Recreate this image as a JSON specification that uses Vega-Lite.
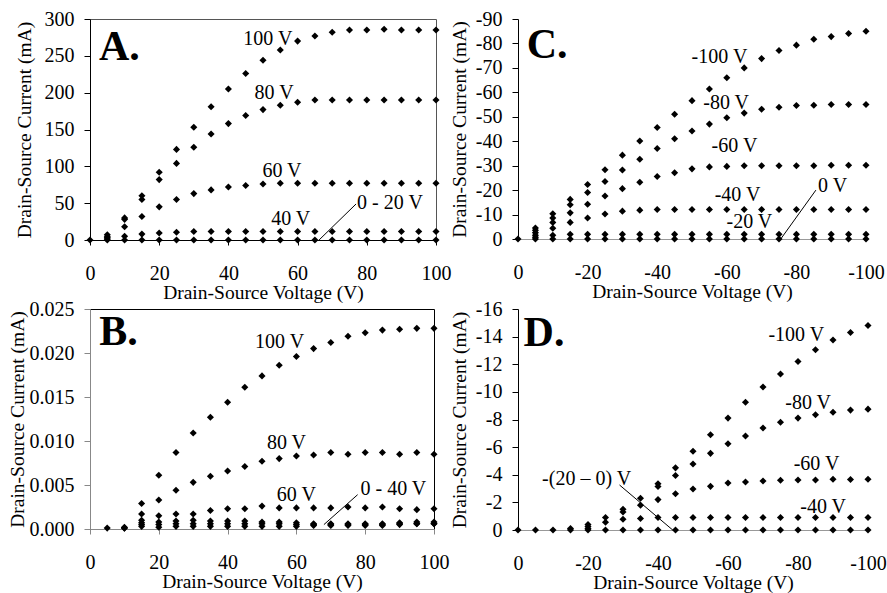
{
  "$schema": "https://vega.github.io/schema/vega-lite/v6.json",
  "padding": {"left": 6, "top": 8, "right": 2, "bottom": 2},
  "background": "white",
  "datasets": {
    "A": [
      {"g": "0 V", "v": 0, "i": 0},
      {"g": "100 V", "v": 5, "i": 7}, {"g": "100 V", "v": 10, "i": 30}, {"g": "100 V", "v": 15, "i": 60}, {"g": "100 V", "v": 20, "i": 92}, {"g": "100 V", "v": 25, "i": 123}, {"g": "100 V", "v": 30, "i": 153}, {"g": "100 V", "v": 35, "i": 181}, {"g": "100 V", "v": 40, "i": 205}, {"g": "100 V", "v": 45, "i": 226}, {"g": "100 V", "v": 50, "i": 244}, {"g": "100 V", "v": 55, "i": 258}, {"g": "100 V", "v": 60, "i": 270}, {"g": "100 V", "v": 65, "i": 277}, {"g": "100 V", "v": 70, "i": 282}, {"g": "100 V", "v": 75, "i": 285}, {"g": "100 V", "v": 80, "i": 285}, {"g": "100 V", "v": 85, "i": 286}, {"g": "100 V", "v": 90, "i": 285}, {"g": "100 V", "v": 95, "i": 285}, {"g": "100 V", "v": 100, "i": 285},
      {"g": "80 V", "v": 5, "i": 4.5}, {"g": "80 V", "v": 10, "i": 28}, {"g": "80 V", "v": 15, "i": 55}, {"g": "80 V", "v": 20, "i": 82}, {"g": "80 V", "v": 25, "i": 104}, {"g": "80 V", "v": 30, "i": 126}, {"g": "80 V", "v": 35, "i": 144}, {"g": "80 V", "v": 40, "i": 158}, {"g": "80 V", "v": 45, "i": 169}, {"g": "80 V", "v": 50, "i": 177}, {"g": "80 V", "v": 55, "i": 183}, {"g": "80 V", "v": 60, "i": 187}, {"g": "80 V", "v": 65, "i": 190}, {"g": "80 V", "v": 70, "i": 190}, {"g": "80 V", "v": 75, "i": 190}, {"g": "80 V", "v": 80, "i": 190}, {"g": "80 V", "v": 85, "i": 190}, {"g": "80 V", "v": 90, "i": 190}, {"g": "80 V", "v": 95, "i": 190}, {"g": "80 V", "v": 100, "i": 190},
      {"g": "60 V", "v": 5, "i": 3}, {"g": "60 V", "v": 10, "i": 18}, {"g": "60 V", "v": 15, "i": 32}, {"g": "60 V", "v": 20, "i": 45}, {"g": "60 V", "v": 25, "i": 55}, {"g": "60 V", "v": 30, "i": 63}, {"g": "60 V", "v": 35, "i": 68}, {"g": "60 V", "v": 40, "i": 72}, {"g": "60 V", "v": 45, "i": 74}, {"g": "60 V", "v": 50, "i": 76}, {"g": "60 V", "v": 55, "i": 77}, {"g": "60 V", "v": 60, "i": 77}, {"g": "60 V", "v": 65, "i": 77}, {"g": "60 V", "v": 70, "i": 77}, {"g": "60 V", "v": 75, "i": 77}, {"g": "60 V", "v": 80, "i": 77}, {"g": "60 V", "v": 85, "i": 77}, {"g": "60 V", "v": 90, "i": 77}, {"g": "60 V", "v": 95, "i": 77}, {"g": "60 V", "v": 100, "i": 77},
      {"g": "40 V", "v": 5, "i": 1.5}, {"g": "40 V", "v": 10, "i": 5}, {"g": "40 V", "v": 15, "i": 8}, {"g": "40 V", "v": 20, "i": 9.5}, {"g": "40 V", "v": 25, "i": 10.5}, {"g": "40 V", "v": 30, "i": 11.5}, {"g": "40 V", "v": 35, "i": 11.5}, {"g": "40 V", "v": 40, "i": 11.5}, {"g": "40 V", "v": 45, "i": 11.5}, {"g": "40 V", "v": 50, "i": 11.5}, {"g": "40 V", "v": 55, "i": 11.5}, {"g": "40 V", "v": 60, "i": 11.5}, {"g": "40 V", "v": 65, "i": 11.5}, {"g": "40 V", "v": 70, "i": 11.5}, {"g": "40 V", "v": 75, "i": 11.5}, {"g": "40 V", "v": 80, "i": 11.5}, {"g": "40 V", "v": 85, "i": 11.5}, {"g": "40 V", "v": 90, "i": 11.5}, {"g": "40 V", "v": 95, "i": 11.5}, {"g": "40 V", "v": 100, "i": 11.5},
      {"g": "0 V", "v": 5, "i": 0}, {"g": "0 V", "v": 10, "i": 0}, {"g": "0 V", "v": 15, "i": 0}, {"g": "0 V", "v": 20, "i": 0}, {"g": "0 V", "v": 25, "i": 0}, {"g": "0 V", "v": 30, "i": 0}, {"g": "0 V", "v": 35, "i": 0}, {"g": "0 V", "v": 40, "i": 0}, {"g": "0 V", "v": 45, "i": 0}, {"g": "0 V", "v": 50, "i": 0}, {"g": "0 V", "v": 55, "i": 0}, {"g": "0 V", "v": 60, "i": 0}, {"g": "0 V", "v": 65, "i": 0}, {"g": "0 V", "v": 70, "i": 0}, {"g": "0 V", "v": 75, "i": 0}, {"g": "0 V", "v": 80, "i": 0}, {"g": "0 V", "v": 85, "i": 0}, {"g": "0 V", "v": 90, "i": 0}, {"g": "0 V", "v": 95, "i": 0}, {"g": "0 V", "v": 100, "i": 0}
    ],
    "B": [
      {"g": "100 V", "v": 5, "i": 0.0001}, {"g": "100 V", "v": 10, "i": 0.0001}, {"g": "100 V", "v": 15, "i": 0.0029}, {"g": "100 V", "v": 20, "i": 0.0061}, {"g": "100 V", "v": 25, "i": 0.0087}, {"g": "100 V", "v": 30, "i": 0.0109}, {"g": "100 V", "v": 35, "i": 0.0127}, {"g": "100 V", "v": 40, "i": 0.0144}, {"g": "100 V", "v": 45, "i": 0.0161}, {"g": "100 V", "v": 50, "i": 0.0174}, {"g": "100 V", "v": 55, "i": 0.0186}, {"g": "100 V", "v": 60, "i": 0.0196}, {"g": "100 V", "v": 65, "i": 0.0205}, {"g": "100 V", "v": 70, "i": 0.0212}, {"g": "100 V", "v": 75, "i": 0.0219}, {"g": "100 V", "v": 80, "i": 0.0223}, {"g": "100 V", "v": 85, "i": 0.0226}, {"g": "100 V", "v": 90, "i": 0.0227}, {"g": "100 V", "v": 95, "i": 0.0228}, {"g": "100 V", "v": 100, "i": 0.0228},
      {"g": "80 V", "v": 10, "i": 0.0001}, {"g": "80 V", "v": 15, "i": 0.0017}, {"g": "80 V", "v": 20, "i": 0.0033}, {"g": "80 V", "v": 25, "i": 0.0044}, {"g": "80 V", "v": 30, "i": 0.0053}, {"g": "80 V", "v": 35, "i": 0.006}, {"g": "80 V", "v": 40, "i": 0.0066}, {"g": "80 V", "v": 45, "i": 0.0071}, {"g": "80 V", "v": 50, "i": 0.0077}, {"g": "80 V", "v": 55, "i": 0.008}, {"g": "80 V", "v": 60, "i": 0.0083}, {"g": "80 V", "v": 65, "i": 0.0084}, {"g": "80 V", "v": 70, "i": 0.0087}, {"g": "80 V", "v": 75, "i": 0.0085}, {"g": "80 V", "v": 80, "i": 0.0087}, {"g": "80 V", "v": 85, "i": 0.0087}, {"g": "80 V", "v": 90, "i": 0.0085}, {"g": "80 V", "v": 95, "i": 0.0087}, {"g": "80 V", "v": 100, "i": 0.0085},
      {"g": "60 V", "v": 10, "i": 0.0002}, {"g": "60 V", "v": 15, "i": 0.001}, {"g": "60 V", "v": 20, "i": 0.0015}, {"g": "60 V", "v": 25, "i": 0.0017}, {"g": "60 V", "v": 30, "i": 0.0017}, {"g": "60 V", "v": 35, "i": 0.0021}, {"g": "60 V", "v": 40, "i": 0.0023}, {"g": "60 V", "v": 45, "i": 0.0023}, {"g": "60 V", "v": 50, "i": 0.0026}, {"g": "60 V", "v": 55, "i": 0.0024}, {"g": "60 V", "v": 60, "i": 0.0024}, {"g": "60 V", "v": 65, "i": 0.0024}, {"g": "60 V", "v": 70, "i": 0.0024}, {"g": "60 V", "v": 75, "i": 0.0025}, {"g": "60 V", "v": 80, "i": 0.0024}, {"g": "60 V", "v": 85, "i": 0.0025}, {"g": "60 V", "v": 90, "i": 0.0023}, {"g": "60 V", "v": 95, "i": 0.0022}, {"g": "60 V", "v": 100, "i": 0.0023},
      {"g": "40 V", "v": 15, "i": 0.0007}, {"g": "40 V", "v": 20, "i": 0.0008}, {"g": "40 V", "v": 25, "i": 0.0009}, {"g": "40 V", "v": 30, "i": 0.001}, {"g": "40 V", "v": 35, "i": 0.0009}, {"g": "40 V", "v": 40, "i": 0.0009}, {"g": "40 V", "v": 45, "i": 0.0009}, {"g": "40 V", "v": 50, "i": 0.0008}, {"g": "40 V", "v": 55, "i": 0.0008}, {"g": "40 V", "v": 60, "i": 0.0007}, {"g": "40 V", "v": 65, "i": 0.0006}, {"g": "40 V", "v": 70, "i": 0.0006}, {"g": "40 V", "v": 75, "i": 0.0006}, {"g": "40 V", "v": 80, "i": 0.0006}, {"g": "40 V", "v": 85, "i": 0.0006}, {"g": "40 V", "v": 90, "i": 0.0007}, {"g": "40 V", "v": 95, "i": 0.0008}, {"g": "40 V", "v": 100, "i": 0.0008},
      {"g": "20 V", "v": 15, "i": 0.0005}, {"g": "20 V", "v": 20, "i": 0.0005}, {"g": "20 V", "v": 25, "i": 0.0006}, {"g": "20 V", "v": 30, "i": 0.0006}, {"g": "20 V", "v": 35, "i": 0.0006}, {"g": "20 V", "v": 40, "i": 0.0006}, {"g": "20 V", "v": 45, "i": 0.0006}, {"g": "20 V", "v": 50, "i": 0.0006}, {"g": "20 V", "v": 55, "i": 0.0006}, {"g": "20 V", "v": 60, "i": 0.0005}, {"g": "20 V", "v": 65, "i": 0.0005}, {"g": "20 V", "v": 70, "i": 0.0005}, {"g": "20 V", "v": 75, "i": 0.0005}, {"g": "20 V", "v": 80, "i": 0.0005}, {"g": "20 V", "v": 85, "i": 0.0005}, {"g": "20 V", "v": 90, "i": 0.0006}, {"g": "20 V", "v": 95, "i": 0.0006}, {"g": "20 V", "v": 100, "i": 0.0006},
      {"g": "0 V", "v": 15, "i": 0.0003}, {"g": "0 V", "v": 20, "i": 0.0002}, {"g": "0 V", "v": 25, "i": 0.0003}, {"g": "0 V", "v": 30, "i": 0.0003}, {"g": "0 V", "v": 35, "i": 0.0003}, {"g": "0 V", "v": 40, "i": 0.0003}, {"g": "0 V", "v": 45, "i": 0.0003}, {"g": "0 V", "v": 50, "i": 0.0003}, {"g": "0 V", "v": 55, "i": 0.0003}, {"g": "0 V", "v": 60, "i": 0.0003}, {"g": "0 V", "v": 65, "i": 0.0004}, {"g": "0 V", "v": 70, "i": 0.0004}, {"g": "0 V", "v": 75, "i": 0.0004}, {"g": "0 V", "v": 80, "i": 0.0004}, {"g": "0 V", "v": 85, "i": 0.0004}, {"g": "0 V", "v": 90, "i": 0.0005}, {"g": "0 V", "v": 95, "i": 0.0006}, {"g": "0 V", "v": 100, "i": 0.0006}
    ],
    "C": [
      {"g": "0 V", "v": 0, "i": 0},
      {"g": "-100 V", "v": -5, "i": -4.5}, {"g": "-100 V", "v": -10, "i": -10.3}, {"g": "-100 V", "v": -15, "i": -16.2}, {"g": "-100 V", "v": -20, "i": -22.3}, {"g": "-100 V", "v": -25, "i": -28.3}, {"g": "-100 V", "v": -30, "i": -34.3}, {"g": "-100 V", "v": -35, "i": -40.1}, {"g": "-100 V", "v": -40, "i": -45.6}, {"g": "-100 V", "v": -45, "i": -51}, {"g": "-100 V", "v": -50, "i": -56.6}, {"g": "-100 V", "v": -55, "i": -61.4}, {"g": "-100 V", "v": -60, "i": -66}, {"g": "-100 V", "v": -65, "i": -70}, {"g": "-100 V", "v": -70, "i": -73.8}, {"g": "-100 V", "v": -75, "i": -77.1}, {"g": "-100 V", "v": -80, "i": -79.3}, {"g": "-100 V", "v": -85, "i": -81.7}, {"g": "-100 V", "v": -90, "i": -82.8}, {"g": "-100 V", "v": -95, "i": -84.1}, {"g": "-100 V", "v": -100, "i": -85},
      {"g": "-80 V", "v": -5, "i": -3.6}, {"g": "-80 V", "v": -10, "i": -8.6}, {"g": "-80 V", "v": -15, "i": -14}, {"g": "-80 V", "v": -20, "i": -19}, {"g": "-80 V", "v": -25, "i": -23.5}, {"g": "-80 V", "v": -30, "i": -28.2}, {"g": "-80 V", "v": -35, "i": -32.6}, {"g": "-80 V", "v": -40, "i": -37}, {"g": "-80 V", "v": -45, "i": -41}, {"g": "-80 V", "v": -50, "i": -44.2}, {"g": "-80 V", "v": -55, "i": -47}, {"g": "-80 V", "v": -60, "i": -49.6}, {"g": "-80 V", "v": -65, "i": -51.5}, {"g": "-80 V", "v": -70, "i": -53.1}, {"g": "-80 V", "v": -75, "i": -53.9}, {"g": "-80 V", "v": -80, "i": -54.6}, {"g": "-80 V", "v": -85, "i": -54.7}, {"g": "-80 V", "v": -90, "i": -55}, {"g": "-80 V", "v": -95, "i": -55}, {"g": "-80 V", "v": -100, "i": -55},
      {"g": "-60 V", "v": -5, "i": -2.6}, {"g": "-60 V", "v": -10, "i": -6.8}, {"g": "-60 V", "v": -15, "i": -10.7}, {"g": "-60 V", "v": -20, "i": -14.2}, {"g": "-60 V", "v": -25, "i": -17.6}, {"g": "-60 V", "v": -30, "i": -20.6}, {"g": "-60 V", "v": -35, "i": -23.2}, {"g": "-60 V", "v": -40, "i": -25.6}, {"g": "-60 V", "v": -45, "i": -27.1}, {"g": "-60 V", "v": -50, "i": -28.7}, {"g": "-60 V", "v": -55, "i": -29.5}, {"g": "-60 V", "v": -60, "i": -29.7}, {"g": "-60 V", "v": -65, "i": -30}, {"g": "-60 V", "v": -70, "i": -30}, {"g": "-60 V", "v": -75, "i": -30}, {"g": "-60 V", "v": -80, "i": -30}, {"g": "-60 V", "v": -85, "i": -30}, {"g": "-60 V", "v": -90, "i": -30.2}, {"g": "-60 V", "v": -95, "i": -30.2}, {"g": "-60 V", "v": -100, "i": -30.2},
      {"g": "-40 V", "v": -5, "i": -1.5}, {"g": "-40 V", "v": -10, "i": -4.4}, {"g": "-40 V", "v": -15, "i": -6.8}, {"g": "-40 V", "v": -20, "i": -8.6}, {"g": "-40 V", "v": -25, "i": -10.2}, {"g": "-40 V", "v": -30, "i": -11.4}, {"g": "-40 V", "v": -35, "i": -11.8}, {"g": "-40 V", "v": -40, "i": -12.1}, {"g": "-40 V", "v": -45, "i": -12.1}, {"g": "-40 V", "v": -50, "i": -12.1}, {"g": "-40 V", "v": -55, "i": -12.1}, {"g": "-40 V", "v": -60, "i": -12.1}, {"g": "-40 V", "v": -65, "i": -12.1}, {"g": "-40 V", "v": -70, "i": -12.1}, {"g": "-40 V", "v": -75, "i": -12.1}, {"g": "-40 V", "v": -80, "i": -12.1}, {"g": "-40 V", "v": -85, "i": -12.1}, {"g": "-40 V", "v": -90, "i": -12.1}, {"g": "-40 V", "v": -95, "i": -12.1}, {"g": "-40 V", "v": -100, "i": -12.1},
      {"g": "-20 V", "v": -5, "i": -0.7}, {"g": "-20 V", "v": -10, "i": -1.5}, {"g": "-20 V", "v": -15, "i": -1.9}, {"g": "-20 V", "v": -20, "i": -1.9}, {"g": "-20 V", "v": -25, "i": -1.9}, {"g": "-20 V", "v": -30, "i": -1.9}, {"g": "-20 V", "v": -35, "i": -1.9}, {"g": "-20 V", "v": -40, "i": -1.9}, {"g": "-20 V", "v": -45, "i": -1.9}, {"g": "-20 V", "v": -50, "i": -1.9}, {"g": "-20 V", "v": -55, "i": -1.9}, {"g": "-20 V", "v": -60, "i": -1.9}, {"g": "-20 V", "v": -65, "i": -1.9}, {"g": "-20 V", "v": -70, "i": -1.9}, {"g": "-20 V", "v": -75, "i": -1.9}, {"g": "-20 V", "v": -80, "i": -1.9}, {"g": "-20 V", "v": -85, "i": -1.9}, {"g": "-20 V", "v": -90, "i": -1.9}, {"g": "-20 V", "v": -95, "i": -1.9}, {"g": "-20 V", "v": -100, "i": -1.9},
      {"g": "0 V", "v": -5, "i": 0}, {"g": "0 V", "v": -10, "i": 0}, {"g": "0 V", "v": -15, "i": 0}, {"g": "0 V", "v": -20, "i": 0}, {"g": "0 V", "v": -25, "i": 0}, {"g": "0 V", "v": -30, "i": 0}, {"g": "0 V", "v": -35, "i": 0}, {"g": "0 V", "v": -40, "i": 0}, {"g": "0 V", "v": -45, "i": 0}, {"g": "0 V", "v": -50, "i": 0}, {"g": "0 V", "v": -55, "i": 0}, {"g": "0 V", "v": -60, "i": 0}, {"g": "0 V", "v": -65, "i": 0}, {"g": "0 V", "v": -70, "i": 0}, {"g": "0 V", "v": -75, "i": 0}, {"g": "0 V", "v": -80, "i": 0}, {"g": "0 V", "v": -85, "i": 0}, {"g": "0 V", "v": -90, "i": 0}, {"g": "0 V", "v": -95, "i": 0}, {"g": "0 V", "v": -100, "i": 0}
    ],
    "D": [
      {"g": "0 V", "v": 0, "i": 0},
      {"g": "-100 V", "v": -15, "i": -0.1}, {"g": "-100 V", "v": -20, "i": -0.4}, {"g": "-100 V", "v": -25, "i": -0.9}, {"g": "-100 V", "v": -30, "i": -1.5}, {"g": "-100 V", "v": -35, "i": -2.3}, {"g": "-100 V", "v": -40, "i": -3.35}, {"g": "-100 V", "v": -45, "i": -4.5}, {"g": "-100 V", "v": -50, "i": -5.7}, {"g": "-100 V", "v": -55, "i": -6.9}, {"g": "-100 V", "v": -60, "i": -8.1}, {"g": "-100 V", "v": -65, "i": -9.25}, {"g": "-100 V", "v": -70, "i": -10.35}, {"g": "-100 V", "v": -75, "i": -11.3}, {"g": "-100 V", "v": -80, "i": -12.2}, {"g": "-100 V", "v": -85, "i": -13.05}, {"g": "-100 V", "v": -90, "i": -13.75}, {"g": "-100 V", "v": -95, "i": -14.3}, {"g": "-100 V", "v": -100, "i": -14.8},
      {"g": "-80 V", "v": -20, "i": -0.25}, {"g": "-80 V", "v": -25, "i": -0.56}, {"g": "-80 V", "v": -30, "i": -1.3}, {"g": "-80 V", "v": -35, "i": -1.8}, {"g": "-80 V", "v": -40, "i": -3.15}, {"g": "-80 V", "v": -45, "i": -3.95}, {"g": "-80 V", "v": -50, "i": -4.78}, {"g": "-80 V", "v": -55, "i": -5.55}, {"g": "-80 V", "v": -60, "i": -6.25}, {"g": "-80 V", "v": -65, "i": -6.8}, {"g": "-80 V", "v": -70, "i": -7.38}, {"g": "-80 V", "v": -75, "i": -7.8}, {"g": "-80 V", "v": -80, "i": -8.1}, {"g": "-80 V", "v": -85, "i": -8.35}, {"g": "-80 V", "v": -90, "i": -8.53}, {"g": "-80 V", "v": -95, "i": -8.68}, {"g": "-80 V", "v": -100, "i": -8.75},
      {"g": "-60 V", "v": -20, "i": -0.1}, {"g": "-60 V", "v": -30, "i": -0.78}, {"g": "-60 V", "v": -35, "i": -0.83}, {"g": "-60 V", "v": -40, "i": -2.2}, {"g": "-60 V", "v": -45, "i": -2.62}, {"g": "-60 V", "v": -50, "i": -2.97}, {"g": "-60 V", "v": -55, "i": -3.16}, {"g": "-60 V", "v": -60, "i": -3.4}, {"g": "-60 V", "v": -65, "i": -3.48}, {"g": "-60 V", "v": -70, "i": -3.55}, {"g": "-60 V", "v": -75, "i": -3.6}, {"g": "-60 V", "v": -80, "i": -3.62}, {"g": "-60 V", "v": -85, "i": -3.62}, {"g": "-60 V", "v": -90, "i": -3.68}, {"g": "-60 V", "v": -95, "i": -3.65}, {"g": "-60 V", "v": -100, "i": -3.68},
      {"g": "-40 V", "v": -40, "i": -0.9}, {"g": "-40 V", "v": -45, "i": -0.9}, {"g": "-40 V", "v": -50, "i": -0.9}, {"g": "-40 V", "v": -55, "i": -0.9}, {"g": "-40 V", "v": -60, "i": -0.9}, {"g": "-40 V", "v": -65, "i": -0.9}, {"g": "-40 V", "v": -70, "i": -0.9}, {"g": "-40 V", "v": -75, "i": -0.9}, {"g": "-40 V", "v": -80, "i": -0.9}, {"g": "-40 V", "v": -85, "i": -0.9}, {"g": "-40 V", "v": -90, "i": -0.9}, {"g": "-40 V", "v": -95, "i": -0.9}, {"g": "-40 V", "v": -100, "i": -0.9},
      {"g": "0 V", "v": -5, "i": 0}, {"g": "0 V", "v": -10, "i": 0}, {"g": "0 V", "v": -15, "i": 0}, {"g": "0 V", "v": -20, "i": 0}, {"g": "0 V", "v": -25, "i": 0}, {"g": "0 V", "v": -30, "i": 0}, {"g": "0 V", "v": -35, "i": 0}, {"g": "0 V", "v": -40, "i": 0}, {"g": "0 V", "v": -45, "i": 0}, {"g": "0 V", "v": -50, "i": 0}, {"g": "0 V", "v": -55, "i": 0}, {"g": "0 V", "v": -60, "i": 0}, {"g": "0 V", "v": -65, "i": 0}, {"g": "0 V", "v": -70, "i": 0}, {"g": "0 V", "v": -75, "i": 0}, {"g": "0 V", "v": -80, "i": 0}, {"g": "0 V", "v": -85, "i": 0}, {"g": "0 V", "v": -90, "i": 0}, {"g": "0 V", "v": -95, "i": 0}, {"g": "0 V", "v": -100, "i": 0}
    ],
    "labA": [{"t": "100 V", "v": 51.4, "i": 273}, {"t": "80 V", "v": 53.2, "i": 199.5}, {"t": "60 V", "v": 55.5, "i": 93.7}, {"t": "40 V", "v": 58, "i": 28.5}, {"t": "0 - 20 V", "v": 86.7, "i": 50.6}],
    "labB": [{"t": "100 V", "v": 55.1, "i": 0.0212}, {"t": "80 V", "v": 57.1, "i": 0.0098}, {"t": "60 V", "v": 60, "i": 0.0039}, {"t": "0 - 40 V", "v": 88.2, "i": 0.0045}],
    "labC": [{"t": "-100 V", "v": -57.9, "i": -74.5}, {"t": "-80 V", "v": -59.8, "i": -55.8}, {"t": "-60 V", "v": -62.2, "i": -38}, {"t": "-40 V", "v": -63.1, "i": -17.9}, {"t": "-20 V", "v": -66.5, "i": -6.8}, {"t": "0 V", "v": -90.4, "i": -21.7}],
    "labD": [{"t": "-100 V", "v": -79.5, "i": -14.1}, {"t": "-80 V", "v": -82.9, "i": -9.2}, {"t": "-60 V", "v": -85.3, "i": -4.8}, {"t": "-40 V", "v": -87.2, "i": -1.67}, {"t": "-(20 – 0) V", "v": -19.6, "i": -3.68}]
  },
  "concat": [
    {
      "width": 346, "height": 221,
      "view": {"stroke": "#555555", "strokeWidth": 1},
      "encoding": {
        "x": {"field": "v", "type": "quantitative", "scale": {"domain": [0, 100], "nice": false}, "axis": {"values": [0, 20, 40, 60, 80, 100], "title": "Drain-Source Voltage (V)"}},
        "y": {"field": "i", "type": "quantitative", "scale": {"domain": [0, 300], "nice": false}, "axis": {"values": [0, 50, 100, 150, 200, 250, 300], "title": "Drain-Source Current (mA)", "titlePadding": 10}}
      },
      "layer": [
        {"data": {"name": "A"}, "mark": {"type": "point"}},
        {"data": {"name": "labA"}, "mark": {"type": "text", "align": "center", "baseline": "middle"}, "encoding": {"text": {"field": "t"}}},
        {"data": {"values": [{"t": "A.", "v": 2.6, "i": 245}]}, "mark": {"type": "text", "align": "left", "baseline": "alphabetic", "fontSize": 42, "fontWeight": "bold"}, "encoding": {"text": {"field": "t"}}},
        {"data": {"values": [{"v": 66.2, "i": 0, "v2": 76.9, "i2": 48.9}]}, "mark": {"type": "rule", "color": "black", "strokeWidth": 1}, "encoding": {"x2": {"field": "v2"}, "y2": {"field": "i2"}}}
      ]
    },
    {
      "width": 348, "height": 220,
      "encoding": {
        "x": {"field": "v", "type": "quantitative", "scale": {"domain": [0, -100], "nice": false}, "axis": {"values": [0, -20, -40, -60, -80, -100], "ticks": false, "labelPadding": 23, "domainColor": "#999999", "title": "Drain-Source Voltage (V)", "labelExpr": "replace(datum.label, '\u2212', '-')"}},
        "y": {"field": "i", "type": "quantitative", "scale": {"domain": [0, -90], "nice": false}, "axis": {"values": [0, -10, -20, -30, -40, -50, -60, -70, -80, -90], "title": "Drain-Source Current (mA)", "titlePadding": 6, "labelExpr": "replace(datum.label, '\u2212', '-')"}}
      },
      "layer": [
        {"data": {"name": "C"}, "mark": {"type": "point"}},
        {"data": {"name": "labC"}, "mark": {"type": "text", "align": "center", "baseline": "middle"}, "encoding": {"text": {"field": "t"}}},
        {"data": {"values": [{"t": "C.", "v": -2.5, "i": -74.2}]}, "mark": {"type": "text", "align": "left", "baseline": "alphabetic", "fontSize": 42, "fontWeight": "bold"}, "encoding": {"text": {"field": "t"}}},
        {"data": {"values": [{"v": -75.5, "i": 0, "v2": -85.6, "i2": -20}]}, "mark": {"type": "rule", "color": "black", "strokeWidth": 1}, "encoding": {"x2": {"field": "v2"}, "y2": {"field": "i2"}}}
      ]
    },
    {
      "width": 344, "height": 220,
      "view": {"stroke": "black", "strokeWidth": 1},
      "encoding": {
        "x": {"field": "v", "type": "quantitative", "scale": {"domain": [0, 100], "nice": false}, "axis": {"values": [0, 20, 40, 60, 80, 100], "domainColor": "#888888", "tickColor": "#888888", "title": "Drain-Source Voltage (V)"}},
        "y": {"field": "i", "type": "quantitative", "scale": {"domain": [0, 0.025], "nice": false}, "axis": {"values": [0, 0.005, 0.01, 0.015, 0.02, 0.025], "format": ".3f", "domainColor": "#888888", "tickColor": "#888888", "title": "Drain-Source Current (mA)", "titlePadding": 2}}
      },
      "layer": [
        {"data": {"name": "B"}, "mark": {"type": "point"}},
        {"data": {"name": "labB"}, "mark": {"type": "text", "align": "center", "baseline": "middle"}, "encoding": {"text": {"field": "t"}}},
        {"data": {"values": [{"t": "B.", "v": 2.7, "i": 0.0209}]}, "mark": {"type": "text", "align": "left", "baseline": "alphabetic", "fontSize": 42, "fontWeight": "bold"}, "encoding": {"text": {"field": "t"}}},
        {"data": {"values": [{"v": 68, "i": 0.0005, "v2": 77.8, "i2": 0.0039}]}, "mark": {"type": "rule", "color": "black", "strokeWidth": 1}, "encoding": {"x2": {"field": "v2"}, "y2": {"field": "i2"}}}
      ]
    },
    {
      "width": 350, "height": 221,
      "encoding": {
        "x": {"field": "v", "type": "quantitative", "scale": {"domain": [0, -100], "nice": false}, "axis": {"values": [0, -20, -40, -60, -80, -100], "ticks": false, "labelPadding": 23, "domainColor": "#999999", "title": "Drain-Source Voltage (V)", "labelExpr": "replace(datum.label, '\u2212', '-')"}},
        "y": {"field": "i", "type": "quantitative", "scale": {"domain": [0, -16], "nice": false}, "axis": {"values": [0, -2, -4, -6, -8, -10, -12, -14, -16], "title": "Drain-Source Current (mA)", "titlePadding": 6, "labelExpr": "replace(datum.label, '\u2212', '-')"}}
      },
      "layer": [
        {"data": {"name": "D"}, "mark": {"type": "point"}},
        {"data": {"name": "labD"}, "mark": {"type": "text", "align": "center", "baseline": "middle"}, "encoding": {"text": {"field": "t"}}},
        {"data": {"values": [{"t": "D.", "v": -1.6, "i": -13.3}]}, "mark": {"type": "text", "align": "left", "baseline": "alphabetic", "fontSize": 42, "fontWeight": "bold"}, "encoding": {"text": {"field": "t"}}},
        {"data": {"values": [{"v": -29, "i": -3.26, "v2": -44.2, "i2": 0}]}, "mark": {"type": "rule", "color": "black", "strokeWidth": 1}, "encoding": {"x2": {"field": "v2"}, "y2": {"field": "i2"}}}
      ]
    }
  ],
  "columns": 2,
  "align": "none",
  "bounds": "flush",
  "spacing": {"row": 69, "column": 82},
  "config": {
    "font": "Liberation Serif",
    "view": {"stroke": null},
    "axis": {"grid": false, "labelFont": "Liberation Serif", "titleFont": "Liberation Serif", "labelFontSize": 20, "titleFontSize": 19.5, "titleFontWeight": "normal", "labelColor": "black", "titleColor": "black", "domainColor": "black", "tickColor": "black", "labelFlush": false, "labelOverlap": false},
    "axisX": {"labelPadding": 18, "tickSize": 5, "titlePadding": 0},
    "axisY": {"labelPadding": 10, "tickSize": 6},
    "point": {"shape": "diamond", "filled": true, "color": "black", "size": 50, "opacity": 1},
    "text": {"font": "Liberation Serif", "fontSize": 20, "color": "black"}
  }
}
